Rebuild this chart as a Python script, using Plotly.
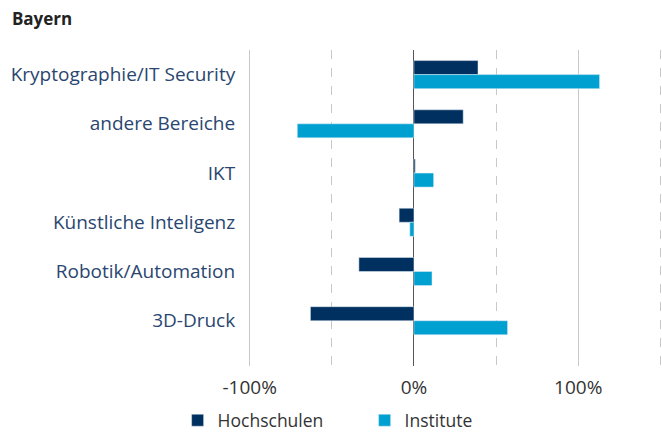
import plotly.graph_objects as go

categories = ["Kryptographie/IT Security", "andere Bereiche", "IKT",
              "Künstliche Inteligenz", "Robotik/Automation", "3D-Druck"]
hochschulen = [39, 30, 0.8, -9, -33.5, -63]
institute = [113, -71, 12, -2.5, 11, 57]

fig = go.Figure()
fig.add_trace(go.Bar(y=categories, x=hochschulen, orientation="h", name="Hochschulen",
                     marker_color="#00305f"))
fig.add_trace(go.Bar(y=categories, x=institute, orientation="h", name="Institute",
                     marker_color="#00a0d1"))

fig.update_layout(
    width=662, height=434,
    margin=dict(l=248, r=0, t=50, b=68, autoexpand=False),
    paper_bgcolor="white", plot_bgcolor="white",
    barmode="group", bargap=0.43, bargroupgap=0,
    font=dict(family="Open Sans", size=18, color="#333333"),
    title=dict(text="<b>Bayern</b>", x=0.018, xanchor="left", y=0.955, yanchor="middle",
               font=dict(size=17, color="#222222")),
    legend=dict(orientation="h", x=-0.17, xanchor="left", y=-0.172, yanchor="middle",
                font=dict(size=17.5, color="#333333"), itemwidth=30, traceorder="normal",
                entrywidthmode="pixels", entrywidth=142, bgcolor="rgba(0,0,0,0)"),
    xaxis=dict(range=[-101, 151], tickvals=[-100, 0, 100], ticktext=["-100%", "0%", "100%"],
               showgrid=True, gridcolor="#c8c8c8", gridwidth=1,
               zeroline=True, zerolinecolor="#555555", zerolinewidth=1,
               minor=dict(tickvals=[-50, 50, 150], showgrid=True, gridcolor="#c8c8c8",
                          griddash="dash", gridwidth=1),
               ticks="outside", ticklen=4, tickcolor="rgba(0,0,0,0)", automargin=False,
               tickfont=dict(size=19, color="#333333"), fixedrange=True),
    yaxis=dict(categoryorder="array", categoryarray=categories,
               range=[5.92, -0.5], showgrid=False, zeroline=False, automargin=False,
               ticks="outside", ticklen=8, tickcolor="rgba(0,0,0,0)",
               tickfont=dict(size=19, color="#2a4670")),
)

fig.write_html("out.html", config={"displayModeBar": False},
               post_script="document.body.style.margin='0';")
